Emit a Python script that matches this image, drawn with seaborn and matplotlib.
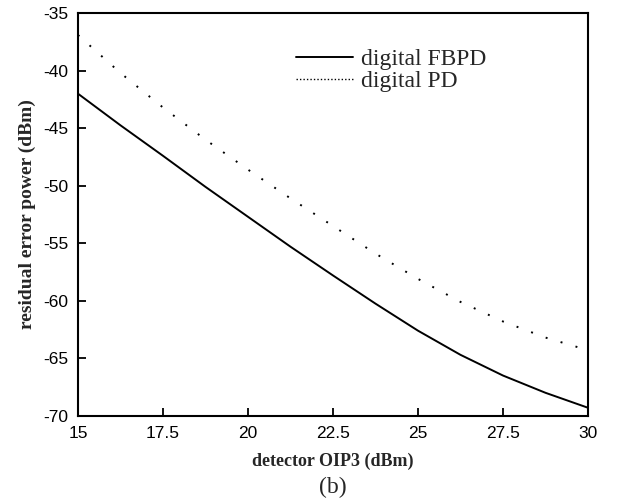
import matplotlib
matplotlib.use('Agg')
import matplotlib.pyplot as plt
import pandas as pd
import seaborn as sns

# detector OIP3 (dBm)
oip3 = [15, 16.25, 17.5, 18.75, 20, 21.25, 22.5, 23.75, 25, 26.25, 27.5, 28.75, 30]
# residual error power (dBm)
fbpd = [-42.0, -44.75, -47.4, -50.1, -52.7, -55.3, -57.8, -60.25, -62.6, -64.7, -66.5, -68.0, -69.3]
pd_only = [-36.9, -40.2, -43.2, -46.0, -48.6, -51.1, -53.5, -55.9, -58.1, -60.1, -61.8, -63.2, -64.3]
series_names = ['digital FBPD', 'digital PD']

df = pd.DataFrame({
   'oip3': oip3 * 2,
   'power': fbpd + pd_only,
   'series': [series_names[0]] * len(oip3) + [series_names[1]] * len(oip3),
})

sns.set_style('ticks')
plt.rcParams['font.family'] = ['Liberation Sans', 'DejaVu Sans']
plt.rcParams['axes.unicode_minus'] = False
serif = ['Liberation Serif', 'DejaVu Serif']

fig = plt.figure(figsize=(6.44, 5.04), dpi=100)
ax = fig.add_axes([0.121, 0.175, 0.792, 0.799])

sns.lineplot(data=df, x='oip3', y='power', style='series', color='black',
             dashes={series_names[0]: '', series_names[1]: (1.0, 7.0)},
             linewidth=1.4, ax=ax)

ax.set_xlim(15, 30)
ax.set_ylim(-70, -35)
ax.set_xticks([15, 17.5, 20, 22.5, 25, 27.5, 30])
ax.set_xticklabels(['15', '17.5', '20', '22.5', '25', '27.5', '30'])
ax.set_yticks(range(-70, -34, 5))
ax.tick_params(direction='in', length=6, width=1.3, labelsize=12.5, pad=7,
               top=False, right=False, colors='black')
for s in ax.spines.values():
   s.set_linewidth(1.5)
   s.set_color('black')

ax.set_xlabel('detector OIP3 (dBm)', fontsize=13, fontweight='bold', family=serif, labelpad=9)
ax.set_ylabel('residual error power (dBm)', fontsize=14, fontweight='bold', family=serif, labelpad=5)

leg = ax.legend(loc='upper left', bbox_to_anchor=(0.41, 0.935), frameon=False,
                prop={'family': serif, 'size': 17}, handlelength=2.4,
                handletextpad=0.35, labelspacing=0.0, borderaxespad=0)
leg.get_lines()[1].set_dashes((1.0, 1.5))
leg.get_lines()[1].set_linewidth(1.0)

fig.text(0.517, 0.032, '(b)', ha='center', va='center', fontsize=17, family=serif)

fig.savefig('out.png', dpi=100)
